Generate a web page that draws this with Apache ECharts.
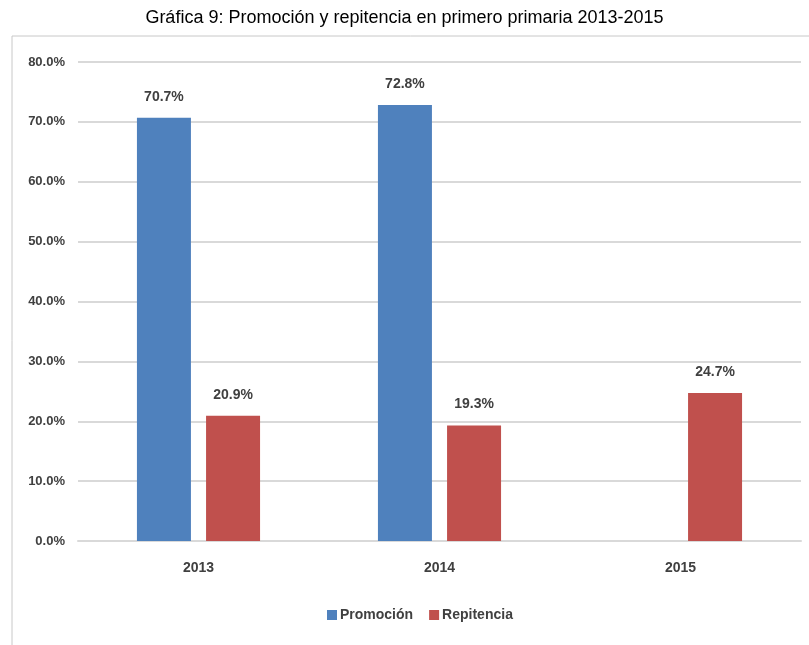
<!DOCTYPE html>
<html>
<head>
<meta charset="utf-8">
<script src="https://cdn.jsdelivr.net/npm/echarts@6/dist/echarts.min.js"></script>
<style>
  html, body { margin: 0; padding: 0; background: #fff; }
  #chart { width: 809px; height: 645px; }
</style>
</head>
<body>
<div id="chart"></div>
<script>
var years = ['2013', '2014', '2015']
var promocion = [70.7, 72.8, null]
var repitencia = [20.9, 19.3, 24.7]
var yTicks = [0, 10, 20, 30, 40, 50, 60, 70, 80]

var font = '"Liberation Sans Narrow", "Liberation Sans", sans-serif'
var chart = echarts.init(document.getElementById('chart'))

chart.setOption({
  animation: false,
  textStyle: { fontFamily: font },
  title: {
    text: 'Gráfica 9: Promoción y repitencia en primero primaria 2013-2015',
    left: 'center',
    top: 4,
    textStyle: { fontFamily: font, fontSize: 18, fontWeight: 'normal', color: '#000' }
  },
  graphic: [{
    type: 'polyline',
    shape: { points: [[12, 645], [12, 36], [809, 36]] },
    style: { stroke: '#c8c8c8', lineWidth: 1, fill: null }
  }],
  legend: {
    data: ['Promoción', 'Repitencia'],
    bottom: 18,
    left: 322,
    itemWidth: 10,
    itemHeight: 10,
    itemGap: 16,
    icon: 'rect',
    textStyle: { fontFamily: font, fontSize: 14, fontWeight: 'bold', color: '#404040', padding: [0, 0, 0, -2] }
  },
  grid: { left: 78, right: 8, top: 62, bottom: 104 },
  xAxis: {
    type: 'category',
    data: years,
    axisLine: { lineStyle: { color: '#d9d9d9', width: 2 } },
    axisTick: { show: false },
    axisLabel: { margin: 20, fontFamily: font, fontSize: 14, fontWeight: 'bold', color: '#404040' }
  },
  yAxis: {
    type: 'value',
    min: yTicks[0],
    max: yTicks[yTicks.length - 1],
    interval: 10,
    axisLine: { show: false },
    axisTick: { show: false },
    splitLine: { lineStyle: { color: '#d9d9d9', width: 2 } },
    axisLabel: {
      margin: 13,
      fontFamily: font, fontSize: 13, fontWeight: 'bold', color: '#404040',
      formatter: function (v) { return v.toFixed(1) + '%' }
    }
  },
  series: [{
    name: 'Promoción',
    type: 'bar',
    data: promocion,
    barWidth: 54,
    barGap: '28%',
    itemStyle: { color: '#4f81bd' },
    label: {
      show: true, position: 'top', distance: 14,
      fontFamily: font, fontSize: 14, fontWeight: 'bold', color: '#404040',
      formatter: function (p) { return p.value.toFixed(1) + '%' }
    }
  }, {
    name: 'Repitencia',
    type: 'bar',
    data: repitencia,
    barWidth: 54,
    itemStyle: { color: '#c0504d' },
    label: {
      show: true, position: 'top', distance: 14,
      fontFamily: font, fontSize: 14, fontWeight: 'bold', color: '#404040',
      formatter: function (p) { return p.value.toFixed(1) + '%' }
    }
  }]
})
</script>
</body>
</html>
